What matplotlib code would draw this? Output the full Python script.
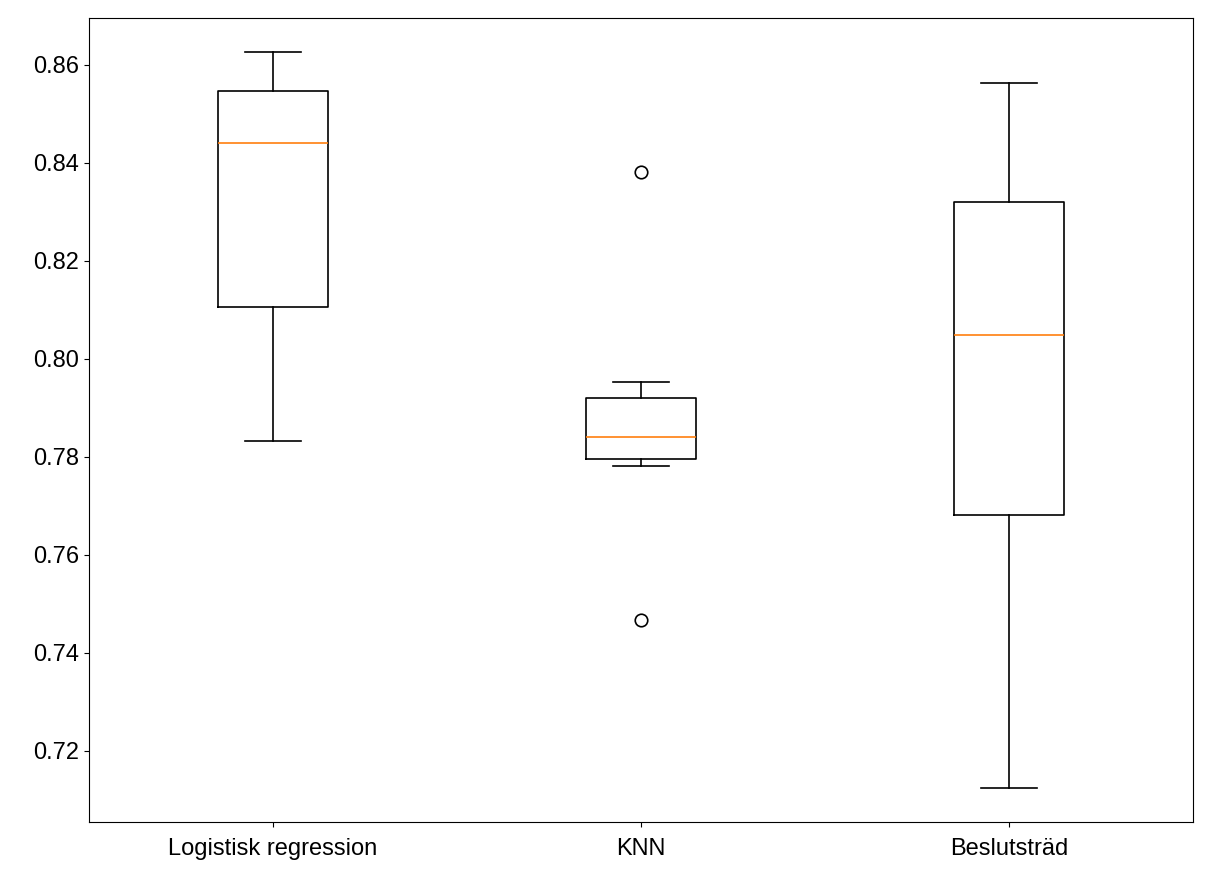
import matplotlib
matplotlib.use("Agg")
import matplotlib.pyplot as plt

labels = ["Logistisk regression", "KNN", "Beslutsträd"]
whislo = [0.7833, 0.7781, 0.7124]
q1 = [0.8105, 0.7796, 0.7681]
med = [0.8440, 0.7841, 0.8049]
q3 = [0.8547, 0.7920, 0.8320]
whishi = [0.8625, 0.7953, 0.8563]
fliers = [[], [0.8381, 0.7468], []]

stats = []
for i in range(len(labels)):
    stats.append(dict(label=labels[i], whislo=whislo[i], q1=q1[i], med=med[i],
                      q3=q3[i], whishi=whishi[i], fliers=fliers[i]))

plt.rcParams['font.family'] = ['Liberation Sans', 'DejaVu Sans']
fig = plt.figure(figsize=(12.08, 8.8), dpi=100)
ax = fig.add_axes([89/1208, 1-822/880, (1193-89)/1208, (822-18)/880])
ax.bxp(stats, boxprops=dict(lw=1.2), whiskerprops=dict(lw=1.2),
       capprops=dict(lw=1.2), medianprops=dict(color="#ff7f0e", lw=1.2),
       flierprops=dict(markersize=9, markeredgewidth=1.2))
ax.set_ylim(0.7055, 0.8695)
ax.set_yticks([0.72, 0.74, 0.76, 0.78, 0.80, 0.82, 0.84, 0.86])
ax.tick_params(labelsize=17)
ax.tick_params(axis='x', pad=8)
fig.savefig("out.png", dpi=100)
